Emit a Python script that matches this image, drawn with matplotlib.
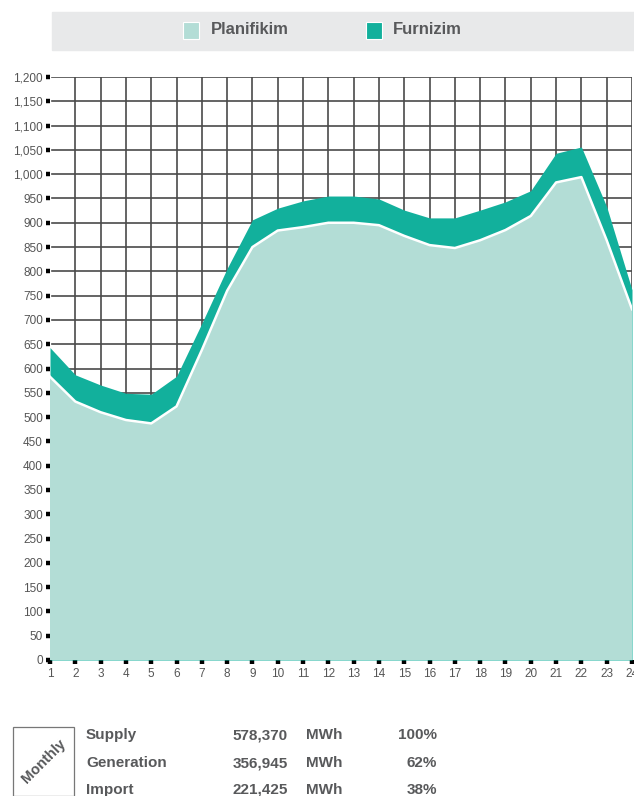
import matplotlib
matplotlib.use("Agg")
import matplotlib.pyplot as plt
from matplotlib.patches import Rectangle
from matplotlib.ticker import FuncFormatter

## hourly values
hours = list(range(1, 25))
planifikim = [583, 532, 510, 494, 487, 522, 638, 760, 850, 884, 891, 900,
              900, 895, 873, 854, 848, 864, 885, 914, 983, 994, 864, 722]
furnizim = [643, 587, 566, 549, 547, 584, 693, 806, 906, 930, 945, 955,
            955, 949, 926, 910, 910, 926, 943, 966, 1043, 1056, 933, 762]

legend_labels = ["Planifikim", "Furnizim"]
row_labels = ["Supply", "Generation", "Import"]
row_values = ["578,370", "356,945", "221,425"]
row_units = ["MWh", "MWh", "MWh"]
row_shares = ["100%", "62%", "38%"]

light = "#b3ddd6"
dark = "#12b09c"
txt = "#58595b"
W, H = 634, 796
narrow = ["Liberation Sans Narrow", "Liberation Sans", "DejaVu Sans"]

plt.rcParams["font.family"] = narrow

fig = plt.figure(figsize=(W / 100, H / 100), dpi=100)
ax = fig.add_axes([50 / W, (H - 660) / H, 582 / W, 583 / H])

## grid first, areas on top of it
for v in range(0, 1201, 50):
    ax.axhline(v, xmin=0.004, color="#4a4a4a", lw=1.2, zorder=1)
for h in hours[1:]:
    ax.axvline(h, color="#4a4a4a", lw=1.2, zorder=1)

ax.fill_between(hours, 0, furnizim, color=dark, lw=0, zorder=2)
ax.fill_between(hours, 0, planifikim, facecolor=light, edgecolor="none", zorder=3)
ax.plot(hours, planifikim, color="white", lw=1.8, zorder=4)

ax.set_xlim(1, 24)
ax.set_ylim(0, 1200)
ax.set_xticks(hours)
ax.set_yticks(range(0, 1201, 50))
ax.yaxis.set_major_formatter(FuncFormatter(lambda v, p: f"{int(v):,}"))
for s in ax.spines.values():
    s.set_visible(False)
ax.tick_params(axis="both", length=3, width=3.2, color="black", labelsize=8.5,
               labelcolor="#555555", pad=2)
ax.tick_params(axis="x", pad=3)

## legend band
fig.patches.append(Rectangle((52 / W, (H - 50) / H), 1 - 52 / W, 38 / H,
                             transform=fig.transFigure, color="#e8e9ea", zorder=0))
sq = [(183, light), (366, dark)]
tx = [211, 393]
for (x0, c), xt, lab in zip(sq, tx, legend_labels):
    fig.patches.append(Rectangle((x0 / W, (H - 39) / H), 16 / W, 17 / H,
                                 transform=fig.transFigure, color=c,
                                 ec="white", lw=0.8))
    fig.text(xt / W, (H - 30) / H, lab, fontsize=12, fontweight="bold",
             color=txt, va="center", ha="left")

## monthly summary
fig.patches.append(Rectangle((13 / W, 0), 61 / W, (H - 727) / H,
                             transform=fig.transFigure, fill=False,
                             ec="#777777", lw=0.9))
fig.text(44 / W, (H - 761) / H, "Monthly", rotation=45, fontsize=10.5,
         fontweight="bold", color=txt, ha="center", va="center")
for i, y in enumerate([735, 763, 790]):
    yy = (H - y) / H
    kw = dict(fontsize=11, fontweight="bold", color=txt, va="center")
    fig.text(86 / W, yy, row_labels[i], ha="left", **kw)
    fig.text(288 / W, yy, row_values[i], ha="right", **kw)
    fig.text(306 / W, yy, row_units[i], ha="left", **kw)
    fig.text(437 / W, yy, row_shares[i], ha="right", **kw)

fig.savefig("out.png", dpi=100)
